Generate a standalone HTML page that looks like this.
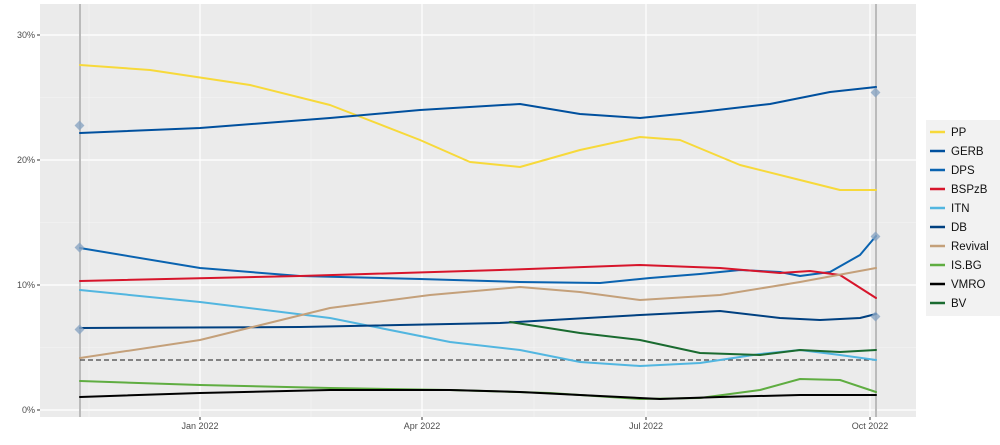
<!DOCTYPE html>
<html><head><style>body{margin:0;background:#fff}svg{display:block;font-family:"Liberation Sans",sans-serif}</style></head><body>
<svg width="1000" height="445" viewBox="0 0 1000 445">
<rect x="40" y="4" width="876" height="413" fill="#ebebeb"/>
<g stroke="#f5f5f5" stroke-width="0.6">
<line x1="40" x2="916" y1="97.5" y2="97.5"/><line x1="40" x2="916" y1="222.5" y2="222.5"/><line x1="40" x2="916" y1="347.5" y2="347.5"/>
<line y1="4" y2="417" x1="89" x2="89"/><line y1="4" y2="417" x1="311" x2="311"/><line y1="4" y2="417" x1="534" x2="534"/><line y1="4" y2="417" x1="758" x2="758"/>
</g>
<g stroke="#fff" stroke-width="1.2">
<line x1="40" x2="916" y1="35" y2="35"/><line x1="40" x2="916" y1="160" y2="160"/><line x1="40" x2="916" y1="285" y2="285"/><line x1="40" x2="916" y1="410" y2="410"/>
<line y1="4" y2="417" x1="200" x2="200"/><line y1="4" y2="417" x1="422" x2="422"/><line y1="4" y2="417" x1="646" x2="646"/><line y1="4" y2="417" x1="870" x2="870"/>
</g>
<line x1="80" x2="80" y1="4" y2="417" stroke="#bbb" stroke-width="2"/>
<line x1="876" x2="876" y1="4" y2="417" stroke="#bbb" stroke-width="2"/>
<line x1="80" x2="876" y1="360" y2="360" stroke="#444" stroke-width="1.3" stroke-dasharray="5,3"/>
<g fill="none" stroke-width="2" stroke-linejoin="round" stroke-linecap="round">
<polyline stroke="#f7d93a" points="80,65 150,70 250,85 330,105 420,140 470,162 520,167 580,150 640,137 680,140 740,165 800,180 840,190 876,190"/>
<polyline stroke="#00509e" points="80,133 200,128 330,118 420,110 520,104 580,114 640,118 700,112 770,104 830,92 876,87"/>
<polyline stroke="#0a63b0" points="80,248 200,268 300,276 420,279 520,282 600,283 650,278 700,274 740,270 780,272 800,276 830,272 860,255 876,236"/>
<polyline stroke="#d7152b" points="80,281 300,276 500,270 640,265 720,268 780,273 810,271 840,275 876,298"/>
<polyline stroke="#52b6e0" points="80,290 200,302 330,318 450,342 520,350 580,362 640,366 700,363 760,354 800,350 840,355 876,360"/>
<polyline stroke="#004080" points="80,328 300,327 500,323 640,315 720,311 780,318 820,320 860,318 876,314"/>
<polyline stroke="#c4a07a" points="80,358 200,340 330,308 430,295 520,287 580,292 640,300 720,295 800,282 876,268"/>
<polyline stroke="#5fad41" points="80,381 200,385 330,388 450,390 550,393 640,399 700,398 760,390 800,379 840,380 876,392"/>
<polyline stroke="#1a6b30" points="510,322 580,333 640,340 700,353 760,355 800,350 840,352 876,350"/>
<polyline stroke="#000" points="80,397 200,393 330,390 450,390 520,392 600,396 660,399 720,397 800,395 876,395"/>
</g>
<g fill="#8aa6c4" opacity="0.8">
<rect x="76" y="122" width="7" height="7" transform="rotate(45 79.5 125.5)"/>
<rect x="76" y="244" width="7" height="7" transform="rotate(45 79.5 247.5)"/>
<rect x="76" y="326" width="7" height="7" transform="rotate(45 79.5 329.5)"/>
<rect x="872" y="89" width="7" height="7" transform="rotate(45 875.5 92.5)"/>
<rect x="872" y="233" width="7" height="7" transform="rotate(45 875.5 236.5)"/>
<rect x="872" y="313" width="7" height="7" transform="rotate(45 875.5 316.5)"/>
</g>
<g font-size="9" fill="#4d4d4d" text-anchor="end">
<text x="35" y="38">30%</text><text x="35" y="163">20%</text><text x="35" y="288">10%</text><text x="35" y="413">0%</text>
</g>
<g stroke="#333" stroke-width="1"><line x1="37" x2="40" y1="35" y2="35"/><line x1="37" x2="40" y1="160" y2="160"/><line x1="37" x2="40" y1="285" y2="285"/><line x1="37" x2="40" y1="410" y2="410"/>
<line x1="200" x2="200" y1="417" y2="420"/><line x1="422" x2="422" y1="417" y2="420"/><line x1="646" x2="646" y1="417" y2="420"/><line x1="870" x2="870" y1="417" y2="420"/></g>
<g font-size="9" fill="#4d4d4d" text-anchor="middle">
<text x="200" y="429">Jan 2022</text><text x="422" y="429">Apr 2022</text><text x="646" y="429">Jul 2022</text><text x="870" y="429">Oct 2022</text>
</g>
<rect x="926" y="120" width="74" height="196" fill="#f2f2f2"/>
<g stroke-width="2.5">
<line x1="930" x2="945" y1="132" y2="132" stroke="#f7d93a"/>
<line x1="930" x2="945" y1="151" y2="151" stroke="#00509e"/>
<line x1="930" x2="945" y1="170" y2="170" stroke="#0a63b0"/>
<line x1="930" x2="945" y1="189" y2="189" stroke="#d7152b"/>
<line x1="930" x2="945" y1="208" y2="208" stroke="#52b6e0"/>
<line x1="930" x2="945" y1="227" y2="227" stroke="#004080"/>
<line x1="930" x2="945" y1="246" y2="246" stroke="#c4a07a"/>
<line x1="930" x2="945" y1="265" y2="265" stroke="#5fad41"/>
<line x1="930" x2="945" y1="284" y2="284" stroke="#000"/>
<line x1="930" x2="945" y1="303" y2="303" stroke="#1a6b30"/>
</g>
<g font-size="11.5" fill="#111">
<text x="951" y="136">PP</text><text x="951" y="155">GERB</text><text x="951" y="174">DPS</text><text x="951" y="193">BSPzB</text><text x="951" y="212">ITN</text><text x="951" y="231">DB</text><text x="951" y="250">Revival</text><text x="951" y="269">IS.BG</text><text x="951" y="288">VMRO</text><text x="951" y="307">BV</text>
</g>
</svg>
</body></html>
